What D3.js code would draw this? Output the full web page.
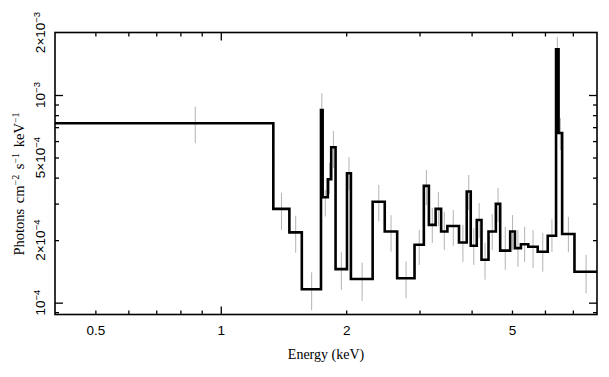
<!DOCTYPE html>
<html><head><meta charset="utf-8">
<script src="https://cdn.jsdelivr.net/npm/d3@7"></script>
<style>body{margin:0;background:#fff} svg{display:block}</style>
</head><body>
<svg id="c" width="609" height="377"></svg>
<script>
// ---- data ----
const binEdges = [0.4, 1.337, 1.461, 1.565, 1.740, 1.756, 1.807, 1.841, 1.886, 2.009, 2.053, 2.315, 2.475, 2.651, 2.918, 3.072, 3.159, 3.279, 3.380, 3.499, 3.731, 3.894, 3.981, 4.116, 4.225, 4.392, 4.574, 4.685, 4.951, 5.082, 5.254, 5.472, 5.764, 6.093, 6.380, 6.469, 6.598, 7.063, 8.0];
const flux = [7.31e-4, 2.83e-4, 2.18e-4, 1.16e-4, 8.47e-4, 3.22e-4, 3.93e-4, 5.60e-4, 1.45e-4, 4.20e-4, 1.30e-4, 3.06e-4, 2.20e-4, 1.31e-4, 1.90e-4, 3.65e-4, 2.37e-4, 2.83e-4, 2.20e-4, 2.34e-4, 1.95e-4, 3.43e-4, 1.88e-4, 2.50e-4, 1.61e-4, 2.20e-4, 2.99e-4, 1.78e-4, 2.20e-4, 1.83e-4, 1.91e-4, 1.86e-4, 1.76e-4, 2.10e-4, 1.66e-3, 6.56e-4, 2.14e-4, 1.41e-4];
const errHi = [8.79e-4, 3.38e-4, 2.62e-4, 1.40e-4, 1.02e-3, 3.49e-4, 4.71e-4, 6.71e-4, 1.75e-4, 5.03e-4, 1.56e-4, 3.69e-4, 2.64e-4, 1.58e-4, 2.24e-4, 4.36e-4, 2.86e-4, 3.41e-4, 2.73e-4, 2.79e-4, 2.37e-4, 4.12e-4, 2.29e-4, 3.02e-4, 1.94e-4, 2.67e-4, 3.57e-4, 2.32e-4, 2.64e-4, 2.24e-4, 2.32e-4, 2.24e-4, 2.17e-4, 2.52e-4, 1.90e-3, 7.75e-4, 2.59e-4, 1.70e-4];
const errLo = [5.86e-4, 2.24e-4, 1.74e-4, 0.92e-4, 6.94e-4, 2.60e-4, 3.35e-4, 4.45e-4, 1.15e-4, 3.49e-4, 1.02e-4, 2.46e-4, 1.76e-4, 1.05e-4, 1.52e-4, 2.95e-4, 1.94e-4, 2.34e-4, 1.79e-4, 1.88e-4, 1.57e-4, 2.79e-4, 1.52e-4, 2.05e-4, 1.29e-4, 1.79e-4, 2.45e-4, 1.44e-4, 1.79e-4, 1.49e-4, 1.57e-4, 1.47e-4, 1.41e-4, 1.75e-4, 1.43e-3, 5.44e-4, 1.75e-4, 1.11e-4];

const xTickLabels = [0.5, 1, 2, 5];
const xMajorTicks = [1];
const xMinorTicks = [0.5, 0.6, 0.7, 0.8, 0.9, 2, 3, 4, 5, 6, 7];
const yTickVals = [1e-4, 2e-4, 5e-4, 1e-3, 2e-3];
const yTickMant = ["", "2×", "5×", "", "2×"];
const yTickExp = ["−4", "−4", "−4", "−3", "−3"];
const yMajorTicks = [1e-4, 1e-3];
const yMinorTicks = [9e-5, 2e-4, 3e-4, 4e-4, 5e-4, 6e-4, 7e-4, 8e-4, 9e-4];
const xTitle = "Energy (keV)";
const yTitleParts = [["Photons", ""], [" cm", ""], ["−2", "sup"], [" s", ""], ["−1", "sup"], [" keV", ""], ["−1", "sup"]];

// ---- layout ----
const L = 55, R = 597, T = 32.5, B = 314.5;
const svg = d3.select("#c");
const x = d3.scaleLog().domain([0.4, 8]).range([L, R]);
const y = d3.scaleLog().domain([8.77e-5, 2e-3]).range([B, T]);

svg.append("defs").append("clipPath").attr("id", "clip")
  .append("rect").attr("x", L).attr("y", T).attr("width", R - L).attr("height", B - T);

// error bars
const centers = flux.map((d, i) => (binEdges[i] + binEdges[i + 1]) / 2);
svg.append("g").attr("clip-path", "url(#clip)")
  .selectAll("line").data(flux).join("line")
  .attr("x1", (d, i) => x(centers[i])).attr("x2", (d, i) => x(centers[i]))
  .attr("y1", (d, i) => y(errLo[i])).attr("y2", (d, i) => y(errHi[i]))
  .attr("stroke", "#b3b3b3").attr("stroke-width", 1);

// step line
const pts = flux.map((d, i) => [binEdges[i], d]);
pts.push([binEdges[binEdges.length - 1], flux[flux.length - 1]]);
const line = d3.line().x(d => x(d[0])).y(d => y(d[1])).curve(d3.curveStepAfter);
svg.append("path").attr("d", line(pts))
  .attr("fill", "none").attr("stroke", "#000").attr("stroke-width", 2.6)
  .attr("stroke-linejoin", "miter");

// ticks (inward)
function ticks(axisFn, scale, vals, size, transform) {
  const g = svg.append("g").attr("transform", transform)
    .call(axisFn(scale).tickValues(vals).tickSize(-size).tickFormat(""));
  g.select(".domain").remove();
  g.selectAll("line").attr("stroke", "#000").attr("stroke-width", 1.3);
}
ticks(d3.axisBottom, x, xMinorTicks, 4, `translate(0,${B})`);
ticks(d3.axisBottom, x, xMajorTicks, 8, `translate(0,${B})`);
ticks(d3.axisTop, x, xMinorTicks, 4, `translate(0,${T})`);
ticks(d3.axisTop, x, xMajorTicks, 8, `translate(0,${T})`);
ticks(d3.axisLeft, y, yMinorTicks, 4, `translate(${L},0)`);
ticks(d3.axisLeft, y, yMajorTicks, 8, `translate(${L},0)`);
ticks(d3.axisRight, y, yMinorTicks, 4, `translate(${R},0)`);
ticks(d3.axisRight, y, yMajorTicks, 8, `translate(${R},0)`);

// frame
svg.append("rect").attr("x", L).attr("y", T).attr("width", R - L).attr("height", B - T)
  .attr("fill", "none").attr("stroke", "#000").attr("stroke-width", 1.6);

// x tick labels
const xl = svg.append("g").attr("transform", `translate(0,${B})`)
  .call(d3.axisBottom(x).tickValues(xTickLabels).tickSize(0).tickPadding(11).tickFormat(d3.format("")));
xl.select(".domain").remove();
xl.selectAll("text").attr("font-family", "'Liberation Sans', Arial, sans-serif")
  .attr("font-size", 13.5).attr("fill", "#000");

// y tick labels (rotated, with superscripts)
const yl = svg.append("g").selectAll("text").data(yTickVals).join("text")
  .attr("transform", d => `translate(45,${y(d)}) rotate(-90)`)
  .attr("text-anchor", "middle")
  .attr("font-family", "'Liberation Sans', Arial, sans-serif")
  .attr("font-size", 13.5).attr("fill", "#000");
yl.append("tspan").text((d, i) => yTickMant[i] + "10");
yl.append("tspan").attr("dy", -5.5).attr("font-size", 9.5).text((d, i) => yTickExp[i]);

// axis titles
svg.append("text").attr("x", (L + R) / 2).attr("y", 359).attr("text-anchor", "middle")
  .attr("font-family", "'Liberation Serif', 'Times New Roman', serif").attr("font-size", 14)
  .text(xTitle);

const yt = svg.append("text").attr("transform", `translate(24,184) rotate(-90)`)
  .attr("text-anchor", "middle")
  .attr("font-family", "'Liberation Serif', 'Times New Roman', serif").attr("font-size", 14.5)
  .attr("word-spacing", 2);
let up = false;
yTitleParts.forEach(p => {
  const ts = yt.append("tspan").text(p[0]);
  if (p[1] === "sup") { ts.attr("dy", -5).attr("font-size", 10); up = true; }
  else if (up) { ts.attr("dy", 5); up = false; }
});
</script>
</body></html>
